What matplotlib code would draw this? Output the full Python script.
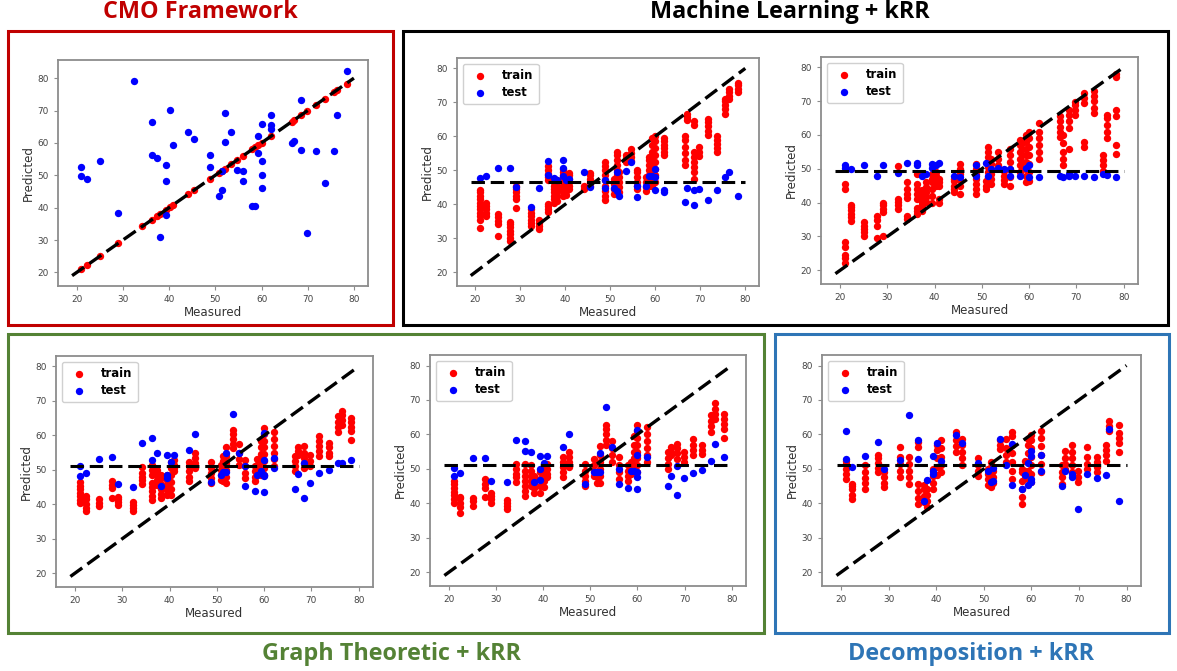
import matplotlib
matplotlib.use("Agg")
import matplotlib.pyplot as plt
from matplotlib.patches import Rectangle

# ---------------- data ----------------
measured_cols = [21, 22.3, 25, 27.7, 29, 32.3, 34.2, 36.2, 37.4, 38.1, 39.4, 40.2, 40.9,
                 44.1, 45.4, 48.8, 50.8, 51.4, 52, 53.4, 54.6, 56, 58, 58.6, 59.3, 60, 62,
                 66.5, 67.1, 68.5, 69.8, 71.7, 73.7, 75.6, 76.4, 78.4]

# CMO framework
cmo_train_meas = [21, 22.3, 25, 29, 34.2, 36.2, 37.4, 38.1, 39.4, 40.2, 40.9, 44.1, 45.4,
                  48.8, 50.8, 51.4, 52, 53.4, 54.6, 56, 58, 58.6, 59.3, 60, 62, 66.5, 67.1,
                  68.5, 69.8, 71.7, 73.7, 75.6, 76.4, 78.4]
cmo_train_pred = [21, 22.3, 25, 29, 34.2, 36.2, 37.4, 38.1, 39.4, 40.2, 40.9, 44.1, 45.4,
                  48.8, 50.8, 51.4, 52, 53.4, 54.6, 56, 58, 58.6, 59.3, 60, 62, 66.5, 67.1,
                  68.5, 69.8, 71.7, 73.7, 75.6, 76.4, 78.2]
cmo_test_meas = [21, 21, 22.3, 25, 29, 32.3, 36.2, 36.2, 37.4, 38.1, 39.4, 39.4, 39.4, 40.2,
                 40.9, 44.1, 45.4, 48.8, 48.8, 50.8, 51.4, 51.4, 52, 52, 53.4, 54.6, 56, 56,
                 58, 58.6, 59.3, 59.3, 60, 60, 60, 60, 62, 62, 62, 66.5, 67.1, 68.5, 68.5,
                 69.8, 71.7, 73.7, 75.6, 76.4, 78.4]
cmo_test_pred = [52.5, 49.9, 49.0, 54.3, 38.2, 79.0, 66.6, 56.3, 55.3, 31.0, 53.2, 48.1, 37.6,
                 70.2, 59.5, 63.3, 61.2, 56.2, 52.7, 43.5, 45.4, 51.3, 69.1, 60.4, 63.3, 51.5,
                 51.3, 48.2, 40.5, 40.5, 62.0, 56.8, 65.8, 54.4, 50.1, 46.1, 68.6, 65.5, 64.2,
                 60.1, 60.6, 73.2, 57.8, 32.1, 57.5, 47.7, 57.5, 68.6, 82.3]

# Machine learning + kRR (panel 1)
ml1_train_pred = [
    [33.1, 35.5, 36.5, 37.5, 38.5, 39.5, 40.5, 41.5, 42.5, 43.5, 44.2],
    [36.5, 37.5, 38.5, 39.5, 40.5],
    [30.7, 34.2, 35.2, 36.2, 37.0],
    [29.2, 30.2, 31.2, 32.2, 33.2, 34.2, 34.7],
    [38.8, 41.5, 42.5, 43.5, 44.5, 45.3],
    [33.6, 34.5, 35.5, 36.5, 37.5, 38.5],
    [32.7, 33.5, 34.5, 35.5],
    [37.6, 38.5, 39.5, 40.2, 47.0, 48.0, 49.0, 50.0, 51.2],
    [40.5, 41.5, 42.5, 43.5, 44.5, 45.5, 46.5, 47.5],
    [41.0, 42.5, 44.0, 45.5, 47.0],
    [42.5, 43.5, 44.5, 45.5, 46.5, 47.5, 48.5, 49.5, 50.5],
    [42.8, 44.0, 45.0, 46.0, 47.0, 48.0],
    [44.5, 45.5, 46.5, 47.5, 48.5, 49.3],
    [44.5, 45.3],
    [45.5, 46.5, 47.5, 48.5, 49.3],
    [41.2, 42.5, 44.0, 45.5, 47.0, 48.5, 50.0, 51.2, 52.3],
    [43.0, 44.5, 46.0, 47.5],
    [45.5, 47.0, 48.5, 50.0, 51.5, 53.0, 54.5, 55.3],
    [43.5, 45.0, 46.5, 48.0, 49.5],
    [52.5, 53.5, 54.5],
    [52.8, 54.0, 55.0, 56.2],
    [44.5, 45.5, 46.5, 48.0, 49.5, 50.0],
    [43.8, 45.0, 46.5, 48.0],
    [45.5, 47.0, 48.5, 50.0, 51.5, 53.0, 54.0],
    [45.5, 47.5, 49.5, 51.5, 53.5, 55.5, 57.5, 59.5],
    [46.5, 48.5, 50.5, 52.5, 54.5, 56.5, 58.5, 60.0],
    [54.5, 55.5, 56.5, 57.5, 58.5, 59.5],
    [51.5, 53.0, 55.0, 57.0, 59.0, 60.0],
    [64.7, 65.7, 66.6],
    [47.4, 49.5, 51.0, 52.5, 54.0, 55.5, 63.2, 64.5],
    [54.3, 55.5, 56.9],
    [60.3, 61.5, 63.0, 64.2, 65.2],
    [55.4, 56.5, 57.8, 59.0, 60.1],
    [66.7, 68.0, 69.3, 70.5, 71.1],
    [71.1, 72.0, 73.0, 74.0],
    [73.1, 74.0, 75.0, 75.8],
]
ml1_test_meas = [21, 22.3, 25, 27.7, 29, 32.3, 34.2, 36.2, 36.2, 37.4, 38.1, 39.4, 39.4, 39.4,
                 40.2, 40.9, 44.1, 45.4, 48.8, 48.8, 50.8, 51.4, 51.4, 52, 53.4, 54.6, 56, 56,
                 58, 58.6, 59.3, 60, 60, 60, 62, 62, 66.5, 67.1, 68.5, 68.5, 69.8, 71.7, 73.7,
                 75.6, 76.4, 78.4]
ml1_test_pred = [47.7, 48.4, 50.8, 50.8, 45.0, 39.3, 44.7, 52.6, 48.7, 47.6, 47.2, 53.1, 50.6,
                 48.4, 47.0, 47.5, 49.6, 45.0, 44.7, 47.2, 44.7, 49.6, 44.0, 42.3, 49.9, 52.4,
                 45.5, 42.0, 45.5, 48.4, 48.4, 50.4, 47.9, 44.3, 44.1, 43.5, 40.7, 44.8, 44.3,
                 39.8, 44.5, 41.3, 44.3, 47.9, 49.4, 42.5]

# Machine learning + kRR (panel 2)
ml2_train_pred = [
    [22.3, 23.5, 24.5, 27.0, 28.5, 44.0, 45.5],
    [34.7, 35.7, 36.7, 37.7, 38.7, 39.4],
    [30.2, 31.2, 32.2, 33.2, 34.2],
    [29.5, 33.0, 35.0, 36.1],
    [30.2, 37.2, 38.2, 39.2, 40.0],
    [38.2, 39.2, 40.2, 41.2, 50.8],
    [35.2, 36.0, 41.5, 42.5, 44.0, 46.0],
    [36.6, 37.5, 38.5, 41.0, 42.5, 44.0, 45.5, 48.5],
    [37.6, 38.6, 39.6, 40.6, 41.6, 42.6, 43.6],
    [40.1, 41.6, 43.0, 44.6, 46.0],
    [40.0, 42.0, 44.0, 46.0, 47.0, 48.5],
    [45.0, 46.0, 47.0, 48.0, 49.0],
    [40.0, 41.0, 45.0, 46.0, 47.0],
    [43.0, 44.0, 45.0, 46.5, 47.0],
    [42.6, 45.0, 46.8, 48.5, 50.0, 51.5],
    [42.6, 44.0, 45.5, 47.0, 48.5, 50.0, 51.5],
    [44.0, 45.0, 46.5],
    [46.0, 47.5, 49.0, 50.5, 52.0, 53.5, 55.0, 56.5],
    [45.5, 47.0, 48.5, 50.0, 51.5, 53.0],
    [51.0, 53.0, 55.0],
    [45.5, 46.8, 48.0, 49.5],
    [45.0, 47.5, 50.0, 52.0, 54.0, 56.0],
    [49.0, 51.0, 53.0, 55.0, 57.0, 58.5],
    [50.0, 52.0, 54.0, 56.0, 57.5],
    [46.0, 48.0, 50.0, 52.0, 54.0, 56.0, 58.0, 60.0],
    [46.5, 49.0, 51.5, 54.0, 56.5, 59.0, 61.0],
    [53.0, 55.0, 57.0, 59.0, 61.0, 63.5],
    [59.5, 61.0, 62.5, 64.0, 65.5],
    [51.0, 53.0, 55.0, 57.5, 60.0],
    [56.0, 62.0, 64.0, 66.0, 67.5],
    [66.0, 67.5, 69.0, 69.8],
    [56.3, 58.0, 69.5, 71.0, 72.5],
    [66.5, 68.0, 70.0, 71.5, 73.0],
    [49.5, 51.0, 52.5, 54.0],
    [59.0, 61.0, 63.0, 65.0, 66.0],
    [54.5, 57.0, 65.5, 67.3, 77.0, 78.0],
]
ml2_test_meas = [21, 21, 22.3, 25, 27.7, 29, 32.3, 34.2, 36.2, 36.2, 37.4, 38.1, 39.4, 39.4,
                 40.2, 40.9, 44.1, 45.4, 48.8, 48.8, 50.8, 51.4, 52, 53.4, 54.6, 56, 56, 58,
                 59.3, 60, 60, 62, 66.5, 67.1, 68.5, 68.5, 69.8, 71.7, 73.7, 75.6, 76.4, 78.4]
ml2_test_pred = [51.0, 50.2, 50.0, 51.0, 48.0, 51.0, 48.8, 51.6, 51.6, 51.0, 48.0, 48.5, 51.5,
                 50.2, 51.0, 51.6, 48.0, 47.7, 51.0, 48.0, 51.7, 48.0, 50.0, 50.3, 50.0, 50.0,
                 47.8, 48.0, 50.2, 51.0, 47.7, 47.7, 48.0, 47.7, 48.5, 48.0, 48.0, 48.0, 47.7,
                 48.5, 48.2, 47.5]

# Graph theoretic + kRR (panel 1)
gt1_train_pred = [
    [40.3, 41.3, 42.3, 43.3, 44.3, 45.3, 46.5],
    [37.9, 39.0, 40.2, 41.5, 42.3],
    [39.4, 40.4, 41.4],
    [41.8, 44.6, 45.5, 46.8],
    [39.8, 40.5, 41.5, 42.2],
    [37.9, 38.8, 39.7, 40.5],
    [46.0, 47.0, 48.0, 49.0, 50.8],
    [41.3, 42.5, 43.8, 45.0, 46.3, 48.5, 50.0, 51.5],
    [45.6, 47.0, 48.5, 50.0],
    [41.8, 43.0, 44.5, 46.0, 47.5, 48.5],
    [42.8, 44.0, 45.5, 47.0, 48.5],
    [42.8, 44.5, 46.5, 48.5, 50.5, 52.4],
    [49.6, 50.5, 51.5, 52.7],
    [46.6, 48.0, 49.5, 51.0, 52.4],
    [50.5, 52.0, 53.5, 54.8],
    [46.1, 47.5, 49.0, 50.5, 52.3],
    [47.0, 48.5, 50.0, 51.5],
    [46.6, 48.5, 50.5, 52.5, 54.0],
    [46.1, 48.0, 50.0, 52.0, 54.0, 56.5],
    [56.3, 57.5, 59.0, 60.5, 61.6],
    [51.5, 53.0, 55.0, 57.5],
    [47.6, 49.0, 51.0, 52.8],
    [46.6, 48.0, 49.5, 51.0],
    [48.5, 50.0, 51.5, 53.0],
    [48.5, 50.5, 52.5, 54.5, 56.5, 58.5],
    [48.5, 50.5, 52.5, 54.5, 56.5, 58.5, 60.5, 62.0],
    [51.0, 53.0, 55.0, 57.0, 59.0, 61.0],
    [49.5, 51.0, 52.5, 54.0],
    [54.4, 55.5, 56.5],
    [50.5, 52.0, 53.5, 55.0, 56.8],
    [51.0, 52.5, 54.2],
    [53.9, 55.5, 57.0, 58.5, 59.7],
    [53.9, 55.0, 56.5, 57.8],
    [61.0, 62.5, 64.0, 65.5],
    [63.0, 64.5, 66.0, 67.0],
    [58.7, 61.3, 62.5, 64.0, 65.0],
]
gt1_test_meas = [21, 21, 22.3, 25, 27.7, 29, 32.3, 34.2, 36.2, 36.2, 37.4, 38.1, 39.4, 39.4,
                 39.4, 40.2, 40.9, 44.1, 45.4, 48.8, 50.8, 51.4, 52, 52, 53.4, 54.6, 56, 56,
                 58, 58.6, 59.3, 60, 60, 60, 60, 60, 62, 62, 66.5, 67.1, 68.5, 68.5, 69.8,
                 71.7, 73.7, 75.6, 76.4, 78.4]
gt1_test_pred = [51.0, 48.3, 49.2, 53.1, 53.6, 45.9, 44.9, 57.9, 59.2, 52.9, 55.0, 45.2, 54.4,
                 48.6, 47.6, 52.4, 54.4, 55.8, 60.4, 46.4, 48.6, 49.3, 54.8, 49.3, 66.2, 54.8,
                 45.2, 51.0, 43.7, 48.6, 49.5, 60.7, 52.9, 48.6, 48.1, 43.4, 53.4, 50.5, 44.5,
                 48.8, 52.0, 41.8, 46.1, 49.2, 50.0, 52.1, 51.9, 52.7]

# Graph theoretic + kRR (panel 2)
gt2_train_pred = [
    [40.2, 41.3, 42.3, 43.3, 44.3, 45.5, 46.5],
    [37.3, 39.0, 40.2, 41.5, 41.8],
    [39.2, 40.5, 41.5],
    [41.7, 44.5, 45.7, 47.0],
    [40.2, 41.2, 42.2, 43.0],
    [38.3, 39.2, 40.2, 41.0],
    [46.1, 47.5, 48.5, 50.0, 51.3],
    [42.1, 43.5, 45.0, 46.5, 48.0, 49.5, 51.5],
    [45.1, 46.5, 48.0, 49.5, 51.0],
    [43.1, 44.5, 46.0, 47.5, 48.0],
    [43.1, 45.0, 47.0, 49.0],
    [44.6, 46.5, 48.5, 50.5],
    [47.5, 48.5, 50.0, 51.5],
    [47.5, 49.0, 50.5, 52.0, 53.4],
    [50.5, 52.0, 53.5, 54.8],
    [45.1, 46.5, 48.0, 49.5, 51.5],
    [48.0, 49.5, 51.0, 52.9],
    [46.0, 47.5, 49.0],
    [46.0, 48.0, 50.0, 52.0, 54.0, 56.6],
    [56.8, 58.5, 60.0, 61.5, 62.6],
    [51.9, 54.0, 56.0, 58.0],
    [47.0, 49.0, 51.0, 53.3],
    [46.5, 48.0, 49.5, 51.0],
    [48.5, 50.0, 51.9],
    [49.0, 51.0, 53.0, 55.0, 57.0, 59.6],
    [49.0, 51.0, 53.0, 55.0, 57.0, 59.0, 61.0, 62.6],
    [52.0, 54.0, 56.0, 58.0, 60.0, 62.0],
    [50.0, 51.5, 53.0, 54.8],
    [53.9, 55.0, 56.2],
    [52.9, 54.5, 56.0, 57.3],
    [51.9, 53.3, 54.8],
    [53.9, 55.5, 57.0, 58.6],
    [54.4, 55.5, 57.0],
    [60.7, 62.5, 64.0, 65.5],
    [64.6, 66.0, 67.5, 69.0],
    [59.0, 61.5, 63.0, 64.5, 66.0],
]
gt2_test_meas = [21, 21, 22.3, 25, 27.7, 29, 32.3, 34.2, 36.2, 36.2, 37.4, 38.1, 39.4, 39.4,
                 39.4, 40.2, 40.9, 44.1, 45.4, 48.8, 50.8, 51.4, 52, 52, 53.4, 54.6, 56, 56,
                 58, 58.6, 59.3, 60, 60, 60, 60, 60, 62, 66.5, 67.1, 68.5, 68.5, 69.8, 71.7,
                 73.7, 75.6, 76.4, 78.4]
gt2_test_pred = [50.1, 48.0, 48.7, 53.2, 53.1, 46.5, 46.2, 58.5, 58.2, 55.3, 55.0, 46.2, 53.6,
                 50.0, 46.8, 51.7, 53.6, 56.3, 60.2, 45.6, 49.0, 49.0, 49.0, 54.6, 68.0, 56.3,
                 45.6, 50.0, 44.3, 49.5, 49.5, 61.2, 53.9, 49.0, 47.5, 44.1, 53.4, 45.1, 48.0,
                 42.4, 50.9, 47.3, 48.8, 49.7, 52.4, 57.3, 53.4]

# Decomposition + kRR
dec_train_pred = [
    [47.1, 48.5, 50.0, 51.5, 52.4],
    [41.3, 42.5, 44.0, 45.0, 45.6],
    [44.2, 46.0, 47.3, 49.0, 51.0],
    [49.0, 50.3, 51.7, 53.0, 53.9],
    [44.7, 46.0, 47.5, 49.0],
    [47.6, 49.5, 51.5, 53.5, 56.3],
    [45.7, 47.5, 49.5, 51.5, 53.4],
    [39.8, 41.5, 43.5, 45.5, 56.4, 57.8],
    [40.3, 42.0, 44.0, 45.2],
    [38.9, 40.5, 42.5, 44.2],
    [44.2, 46.0, 48.0, 50.0],
    [48.1, 50.5, 53.0, 55.5, 56.8],
    [49.0, 51.0, 53.5, 56.0, 58.3],
    [54.8, 56.5, 58.5, 60.6],
    [51.0, 53.0, 55.0, 57.0, 58.7],
    [48.0, 49.5, 51.0, 53.0],
    [45.2, 47.0, 48.5, 50.0],
    [44.7, 46.5, 48.5, 50.5, 52.0],
    [46.0, 47.5, 49.5],
    [55.8, 57.0, 58.5],
    [52.0, 54.0, 56.0, 58.7],
    [47.1, 49.5, 52.0, 54.5, 57.0, 59.5, 60.6],
    [39.8, 41.8, 44.0, 46.5, 49.0, 50.0],
    [48.0, 49.5, 52.4],
    [47.1, 49.5, 52.0, 54.5, 57.0, 58.7],
    [46.1, 48.5, 51.0, 53.5, 56.0, 58.5, 59.7],
    [49.0, 51.5, 54.0, 56.5, 59.0, 61.0],
    [45.7, 47.5, 49.0, 51.0],
    [50.0, 51.5, 53.0, 55.3],
    [49.0, 51.0, 53.0, 55.0, 56.8],
    [46.1, 47.5, 49.5],
    [50.0, 51.5, 53.5, 56.3],
    [49.0, 50.5, 52.0, 53.4],
    [52.4, 54.0, 55.5, 56.8],
    [61.0, 62.5, 63.8],
    [54.8, 57.5, 59.0, 60.5, 62.6],
]
dec_test_meas = [21, 21, 22.3, 25, 27.7, 29, 32.3, 34.2, 36.2, 36.2, 37.4, 38.1, 39.4, 39.4,
                 39.4, 40.2, 40.9, 44.1, 45.4, 48.8, 50.8, 51.4, 52, 52, 53.4, 54.6, 56, 56,
                 58, 58.6, 59.3, 59.3, 60, 60, 60, 60, 62, 62, 66.5, 67.1, 68.5, 68.5, 69.8,
                 71.7, 73.7, 75.6, 76.4, 78.4]
dec_test_pred = [61.0, 52.9, 50.5, 53.7, 57.8, 50.0, 52.6, 65.5, 58.4, 52.7, 40.6, 46.6, 53.6,
                 49.5, 48.4, 57.6, 52.4, 59.9, 57.5, 51.8, 49.5, 46.1, 46.4, 50.2, 58.7, 51.2,
                 57.1, 45.4, 44.2, 48.3, 51.7, 45.2, 55.3, 53.7, 47.1, 46.3, 53.9, 49.5, 45.0,
                 49.5, 48.4, 47.6, 38.4, 48.6, 47.4, 48.1, 61.6, 40.5]

# horizontal dashed line level (mean prediction) per kRR panel
ml1_mean, ml2_mean, gt1_mean, gt2_mean, dec_mean = 46.5, 49.3, 51.0, 51.2, 51.0
line_range = [19, 80]

# ---------------- figure ----------------
W, H = 1177, 671
fig = plt.figure(figsize=(W / 100, H / 100), dpi=100)
fig.patch.set_facecolor("white")


def rect(l, r, t, b):
    return [l / W, 1 - b / H, (r - l) / W, (b - t) / H]


def expand(cols, preds):
    xs, ys = [], []
    for c, p in zip(cols, preds):
        xs += [c] * len(p)
        ys += p
    return xs, ys


SPINE = "#8c8c8c"
DASH = (4.4, 1.9)


def style(ax, ylim):
    ax.set_xlim(15.95, 83.05)
    ax.set_ylim(*ylim)
    ax.set_xticks([20, 30, 40, 50, 60, 70, 80])
    ax.set_yticks([20, 30, 40, 50, 60, 70, 80])
    for s in ax.spines.values():
        s.set_color(SPINE)
        s.set_linewidth(1.3)
    ax.tick_params(labelsize=6.4, colors="#444444", length=3, width=0.8, color=SPINE)
    ax.set_xlabel("Measured", fontsize=8.6, color="#333333", labelpad=1.5)
    ax.set_ylabel("Predicted", fontsize=8.6, color="#333333", labelpad=2)


S = 28
RED, BLUE = "#ff0000", "#0000ff"


def krr_panel(pos, train_preds, test_meas, test_pred, mean_val):
    ax = fig.add_axes(rect(*pos))
    tx, ty = expand(measured_cols, train_preds)
    ax.scatter(tx, ty, s=S, c=RED, label="train", zorder=2, linewidths=0)
    ax.scatter(test_meas, test_pred, s=S, c=BLUE, label="test", zorder=2, linewidths=0)
    ax.plot(line_range, line_range, color="black", lw=2.4, dashes=DASH, zorder=3)
    ax.plot(line_range, [mean_val, mean_val], color="black", lw=2.2, dashes=DASH, zorder=3)
    style(ax, (15.95, 83.05))
    leg = ax.legend(loc="upper left", prop={"weight": "bold", "size": 8.4},
                    scatterpoints=1, handletextpad=0.9, borderpad=0.45,
                    labelspacing=0.3, framealpha=1)
    leg.get_frame().set_edgecolor("#d0d0d0")
    return ax


# CMO panel
ax0 = fig.add_axes(rect(58, 368, 60, 286))
ax0.scatter(cmo_train_meas, cmo_train_pred, s=S, c=RED, zorder=2, linewidths=0)
ax0.scatter(cmo_test_meas, cmo_test_pred, s=S, c=BLUE, zorder=2, linewidths=0)
ax0.plot(line_range, line_range, color="black", lw=2.4, dashes=DASH, zorder=3)
style(ax0, (15.8, 85.6))

krr_panel((457, 759, 58, 286), ml1_train_pred, ml1_test_meas, ml1_test_pred, ml1_mean)
krr_panel((821, 1138, 57, 284), ml2_train_pred, ml2_test_meas, ml2_test_pred, ml2_mean)
krr_panel((56, 373, 356, 587), gt1_train_pred, gt1_test_meas, gt1_test_pred, gt1_mean)
krr_panel((430, 746, 355, 586), gt2_train_pred, gt2_test_meas, gt2_test_pred, gt2_mean)
krr_panel((822, 1141, 355, 586), dec_train_pred, dec_test_meas, dec_test_pred, dec_mean)

# group boxes
C_RED, C_BLACK, C_GREEN, C_BLUE = "#c00000", "#000000", "#548235", "#2e75b6"


def box(l, t, r, b, color):
    fig.patches.append(Rectangle((l / W, 1 - b / H), (r - l) / W, (b - t) / H,
                                 transform=fig.transFigure, fill=False,
                                 edgecolor=color, linewidth=2.2, zorder=10))


box(8, 31, 393, 325, C_RED)
box(403, 31, 1168, 325, C_BLACK)
box(8, 334, 764, 633, C_GREEN)
box(775, 334, 1169, 633, C_BLUE)

TFONT = ["Open Sans", "DejaVu Sans"]
TSIZE = 16.8
fig.text(200 / W, 1 - 12 / H, "CMO Framework", ha="center", va="center",
         fontsize=TSIZE, fontweight="bold", color=C_RED, family=TFONT)
fig.text(790 / W, 1 - 12 / H, "Machine Learning + kRR", ha="center", va="center",
         fontsize=TSIZE, fontweight="bold", color=C_BLACK, family=TFONT)
fig.text(391 / W, 1 - 654 / H, "Graph Theoretic + kRR", ha="center", va="center",
         fontsize=TSIZE, fontweight="bold", color=C_GREEN, family=TFONT)
fig.text(971 / W, 1 - 654 / H, "Decomposition + kRR", ha="center", va="center",
         fontsize=TSIZE, fontweight="bold", color=C_BLUE, family=TFONT)

fig.savefig("out.png", dpi=100, facecolor="white")
